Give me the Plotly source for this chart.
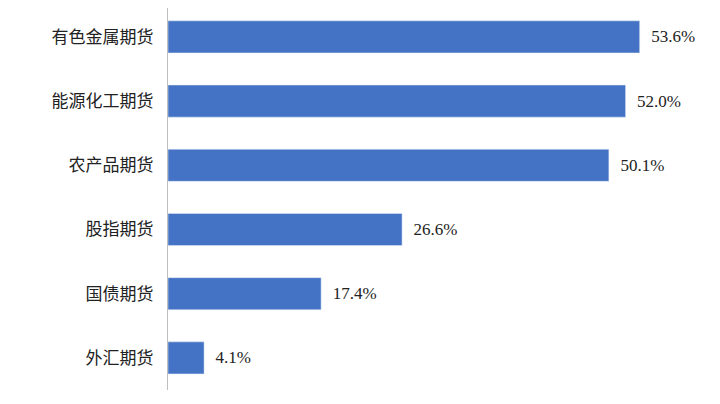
import plotly.graph_objects as go

categories = ["有色金属期货", "能源化工期货", "农产品期货", "股指期货", "国债期货", "外汇期货"]
values = [53.6, 52.0, 50.1, 26.6, 17.4, 4.1]
labels = ["53.6%", "52.0%", "50.1%", "26.6%", "17.4%", "4.1%"]

fig = go.Figure(go.Bar(
    x=values, y=categories, orientation="h",
    marker=dict(color="#4472C4"), width=0.5,
    text=labels, textposition="outside", texttemplate="  %{text}",
    textfont=dict(family="Liberation Serif", size=17, color="#222"),
    cliponaxis=False,
))
fig.update_layout(
    width=720, height=404,
    margin=dict(l=160, r=32, t=0, b=22),
    paper_bgcolor="white", plot_bgcolor="white",
    showlegend=False,
    xaxis=dict(range=[0, 60], visible=False),
    yaxis=dict(range=[5.5, -0.45], automargin=False, showline=True, linecolor="#bfbfbf", linewidth=1,
               ticks="", ticklabelstandoff=10,
               tickfont=dict(family="Noto Sans CJK SC", size=17, color="#222")),
)
fig.write_html("out.html")
